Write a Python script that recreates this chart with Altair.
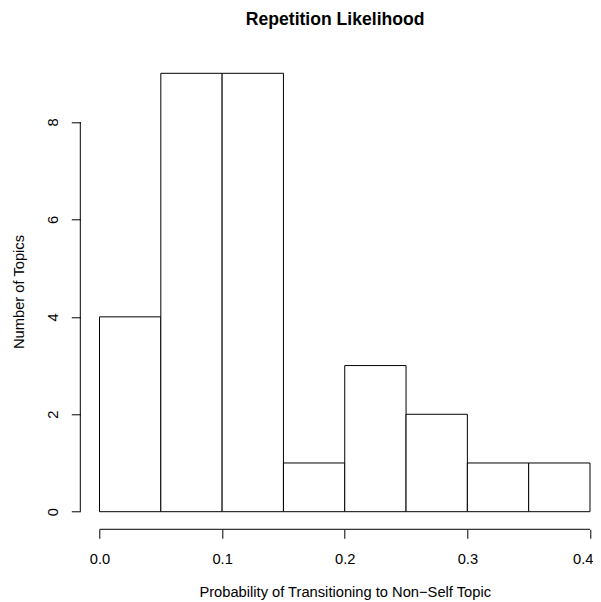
import altair as alt
import pandas as pd

# Histogram bins and counts
bin_start = [0.00, 0.05, 0.10, 0.15, 0.20, 0.25, 0.30, 0.35]
bin_end = [0.05, 0.10, 0.15, 0.20, 0.25, 0.30, 0.35, 0.40]
counts = [4, 9, 9, 1, 3, 2, 1, 1]

x_ticks = [0.0, 0.1, 0.2, 0.3, 0.4]
y_ticks = [0, 2, 4, 6, 8]

title_text = "Repetition Likelihood"
x_title = "Probability of Transitioning to Non\u2212Self Topic"
y_title = "Number of Topics"

df = pd.DataFrame({"start": bin_start, "end": bin_end, "count": counts})
x_axis_df = pd.DataFrame({"start": [min(x_ticks)], "end": [max(x_ticks)]})
y_axis_df = pd.DataFrame({"count": [min(y_ticks)], "top": [max(y_ticks)]})

FONT = "Liberation Sans"
FS = 14.7
GAP = 19.2            # px between y-axis line and x = 0 (R's 4% range extension)
DATA_W = 490.5        # px from x = 0 to x = 0.4
W = DATA_W + GAP
H = 438.4
XOFF = 17.6

x_lo = -GAP * max(x_ticks) / DATA_W
xscale = alt.Scale(domain=[x_lo, max(x_ticks)], nice=False, zero=False)
yscale = alt.Scale(domain=[0, 9], nice=False)

x_axis = alt.Axis(
    values=x_ticks, format=".1f", domain=False, grid=False,
    tickSize=9, tickColor="black", tickWidth=1, offset=XOFF,
    labelFont=FONT, labelFontSize=FS, labelColor="black", labelPadding=13,
    labelFlush=1, labelFlushOffset=3, labelOverlap=False,
    title=x_title, titleFont=FONT, titleFontSize=FS, titleFontWeight="normal",
    titleColor="black", titleX=264.4, titleY=67, titleAlign="center",
    titleBaseline="alphabetic", titleAnchor="middle",
)
y_axis = alt.Axis(
    values=y_ticks, format="d", domain=False, grid=False,
    tickSize=9, tickColor="black", tickWidth=1, offset=0,
    labelFont=FONT, labelFontSize=FS, labelColor="black",
    labelAngle=270, labelAlign="center", labelBaseline="alphabetic",
    labelPadding=13.5, labelFlush=False, labelOverlap=False,
    title=y_title, titleFont=FONT, titleFontSize=FS, titleFontWeight="normal",
    titleColor="black", titleAngle=270, titleX=-56.5, titleY=218.2,
    titleAlign="center", titleBaseline="alphabetic",
)

bars = alt.Chart(df).mark_rect(fill="white", stroke="black", strokeWidth=1).encode(
    x=alt.X("start:Q", scale=xscale, axis=x_axis, title=x_title),
    x2="end:Q",
    y=alt.Y("count:Q", scale=yscale, axis=y_axis, title=y_title),
    y2=alt.datum(0),
)

x_line = alt.Chart(x_axis_df).mark_rule(color="black", strokeWidth=1).encode(
    x=alt.X("start:Q", scale=xscale, axis=x_axis, title=x_title),
    x2="end:Q",
    y=alt.value(H + XOFF),
)

y_line = alt.Chart(y_axis_df).mark_rule(color="black", strokeWidth=1).encode(
    y=alt.Y("count:Q", scale=yscale, axis=y_axis, title=y_title),
    y2="top:Q",
    x=alt.value(0),
)

chart = alt.layer(bars, x_line, y_line).properties(
    width=W,
    height=H,
    title=alt.TitleParams(
        text=title_text, font=FONT, fontSize=17.6, fontWeight="bold",
        color="black", anchor="middle", offset=44.3,
    ),
    autosize=alt.AutoSizeParams(type="none"),
    padding={"left": 72.3, "top": 65.3, "right": 3, "bottom": 91},
    background="white",
).configure_view(stroke=None)

chart.save("out.html", embed_options={"renderer": "svg", "actions": False})
